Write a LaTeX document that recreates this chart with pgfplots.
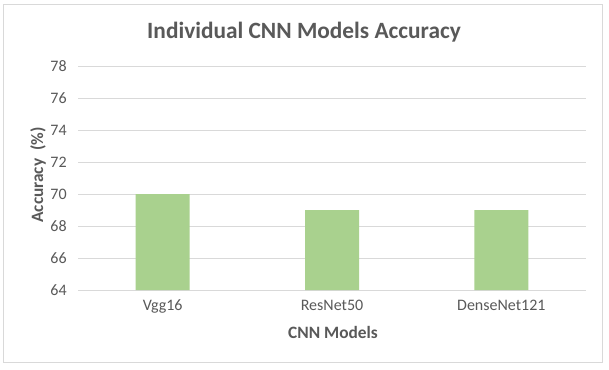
\documentclass[border=0pt]{standalone}
\usepackage{pgfplots}
\pgfplotsset{compat=1.18}
\usepackage{fontspec}
\setmainfont{Carlito}
\definecolor{barg}{HTML}{A9D18E}
\definecolor{txt}{HTML}{595959}
\definecolor{gridc}{HTML}{D9D9D9}
\begin{document}
\begin{tikzpicture}
\fill[white] (0pt,0pt) rectangle (456.75pt,276.75pt);
\draw[gridc, line width=0.75pt] (2.25pt,5.25pt) rectangle (451.5pt,273.75pt);
\begin{axis}[
  at={(58.5pt,59.25pt)}, anchor=south west,
  scale only axis, width=381pt, height=168pt,
  xmin=-0.5, xmax=2.5, ymin=64, ymax=78,
  ytick={64,66,...,78},
  xtick={0,1,2},
  xticklabels={Vgg16,ResNet50,DenseNet121},
  axis line style={draw=none},
  major tick length=0pt,
  ymajorgrids, major grid style={gridc, line width=0.75pt},
  /pgf/number format/assume math mode=true,
  ticklabel style={font=\fontsize{12}{14}\selectfont, text=txt},
  yticklabel style={xshift=-5pt},
  xticklabel style={yshift=-4pt},
  clip=false,
]
\addplot[ybar, bar width=40.5pt, fill=barg, draw=none, bar shift=0pt] coordinates {(0,70) (1,69) (2,69)};
\end{axis}
\node[text=txt, font=\fontsize{17.5}{21}\selectfont\bfseries] at (228pt,252.75pt) {Individual CNN Models Accuracy};
\node[text=txt, font=\fontsize{13}{15}\selectfont\bfseries, rotate=90] at (28.5pt,145.5pt) {Accuracy~~(\%)};
\node[text=txt, font=\fontsize{13}{15}\selectfont\bfseries] at (249.75pt,27.75pt) {CNN Models};
\end{tikzpicture}
\end{document}
